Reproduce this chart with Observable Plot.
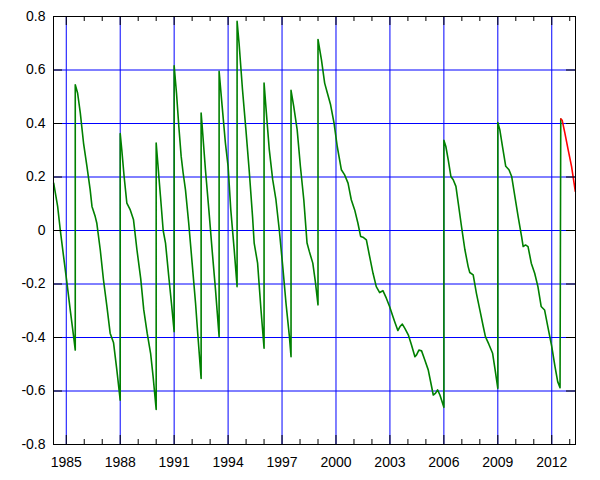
<!DOCTYPE html>
<html><head><meta charset="utf-8">
<script src="https://cdn.jsdelivr.net/npm/d3@7"></script>
<script src="https://cdn.jsdelivr.net/npm/@observablehq/plot@0.6"></script>
<style>body{margin:0;background:#fff}</style>
</head><body><div id="chart"></div>
<script>
const years = [
1984.30,1984.52,1984.67,1984.85,1985.04,1985.22,1985.41,1985.50,
1985.50,1985.63,1985.78,1985.96,1986.15,1986.33,1986.43,1986.61,1986.70,1986.89,1987.07,1987.26,1987.44,1987.63,1987.81,1988.00,
1988.00,1988.09,1988.22,1988.37,1988.56,1988.74,1988.93,1989.14,1989.31,1989.50,1989.69,1989.83,1990.00,
1990.00,1990.09,1990.24,1990.39,1990.52,1990.70,1990.85,1991.00,
1991.00,1991.13,1991.26,1991.39,1991.50,1991.63,1991.81,1992.00,1992.19,1992.31,1992.50,
1992.50,1992.56,1992.74,1992.93,1993.11,1993.30,1993.50,
1993.50,1993.67,1993.85,1994.00,1994.15,1994.34,1994.50,
1994.50,1994.61,1994.80,1994.99,1995.17,1995.36,1995.45,1995.64,1995.83,1996.00,
1996.00,1996.10,1996.29,1996.48,1996.66,1996.85,1997.04,1997.22,1997.41,1997.50,
1997.50,1997.65,1997.84,1998.02,1998.21,1998.39,1998.52,1998.71,1998.85,1999.00,
1999.00,1999.19,1999.37,1999.52,1999.70,1999.89,2000.07,2000.30,2000.48,2000.67,2000.85,2001.04,2001.22,2001.37,2001.50,2001.69,2001.87,2002.06,2002.24,2002.43,2002.61,2002.80,2002.98,2003.17,2003.26,2003.44,2003.56,2003.69,2003.83,2004.02,2004.20,2004.39,2004.48,2004.61,2004.76,2004.94,2005.13,2005.28,2005.41,2005.54,2005.65,2005.78,2005.87,2006.00,
2006.00,2006.11,2006.24,2006.39,2006.52,2006.67,2006.80,2006.98,2007.17,2007.35,2007.44,2007.63,2007.81,2008.00,2008.19,2008.31,2008.50,2008.71,2008.85,2009.00,
2009.00,2009.11,2009.26,2009.44,2009.62,2009.77,2009.95,2010.13,2010.32,2010.41,2010.54,2010.68,2010.86,2011.05,2011.23,2011.41,2011.60,2011.78,2012.00,2012.18,2012.33,2012.46,
2012.50
];
const values = [
0.177,0.09,0.0,-0.097,-0.197,-0.297,-0.397,-0.447,
0.545,0.514,0.44,0.327,0.24,0.152,0.09,0.052,0.027,-0.072,-0.185,-0.284,-0.384,-0.42,-0.52,-0.634,
0.362,0.30,0.20,0.102,0.077,0.04,-0.072,-0.18,-0.297,-0.384,-0.459,-0.546,-0.669,
0.327,0.252,0.127,0.0,-0.047,-0.172,-0.272,-0.378,
0.616,0.514,0.389,0.277,0.215,0.152,0.027,-0.122,-0.272,-0.384,-0.553,
0.439,0.389,0.227,0.077,-0.072,-0.222,-0.397,
0.595,0.464,0.327,0.24,0.077,-0.072,-0.21,
0.782,0.70,0.527,0.377,0.227,0.052,-0.047,-0.122,-0.297,-0.44,
0.551,0.464,0.302,0.19,0.115,0.0,-0.135,-0.272,-0.397,-0.472,
0.524,0.464,0.377,0.24,0.115,-0.047,-0.079,-0.122,-0.19,-0.278,
0.714,0.639,0.551,0.514,0.47,0.402,0.314,0.227,0.208,0.177,0.115,0.077,0.027,-0.022,-0.025,-0.035,-0.097,-0.16,-0.21,-0.232,-0.225,-0.253,-0.284,-0.322,-0.34,-0.374,-0.359,-0.35,-0.366,-0.39,-0.428,-0.472,-0.465,-0.447,-0.45,-0.484,-0.521,-0.571,-0.615,-0.608,-0.596,-0.615,-0.634,-0.661,
0.337,0.314,0.265,0.202,0.19,0.165,0.102,0.015,-0.072,-0.135,-0.157,-0.166,-0.235,-0.297,-0.359,-0.397,-0.425,-0.459,-0.521,-0.59,
0.404,0.377,0.314,0.24,0.227,0.202,0.127,0.052,-0.022,-0.06,-0.054,-0.06,-0.122,-0.16,-0.21,-0.284,-0.297,-0.359,-0.434,-0.509,-0.565,-0.588,
0.417
];
const predYears = [2012.50,2012.58,2012.73,2012.91,2013.10,2013.31];
const predValues = [0.417,0.412,0.364,0.302,0.24,0.146];

const xMajor = [1985,1988,1991,1994,1997,2000,2003,2006,2009,2012];
const xMinor = [1986,1987,1989,1990,1992,1993,1995,1996,1998,1999,2001,2002,2004,2005,2007,2008,2010,2011,2013];
const yTicks = [-0.8,-0.6,-0.4,-0.2,0,0.2,0.4,0.6,0.8];
const yLabels = ["-0.8","-0.6","-0.4","-0.2","0","0.2","0.4","0.6","0.8"];

const observed = years.map((t, i) => ({t, v: values[i]}));
const predicted = predYears.map((t, i) => ({t, v: predValues[i]}));

const W = 600, H = 480, mL = 53, mT = 16, mR = 25, mB = 36;
const plotH = H - mT - mB, plotW = W - mL - mR;

const chart = Plot.plot({
  width: W, height: H,
  marginLeft: mL, marginTop: mT, marginRight: mR, marginBottom: mB,
  style: {fontFamily: "'Liberation Sans', Arial, sans-serif", fontSize: "14px", background: "white", color: "black"},
  x: {domain: [1984.29, 2013.32], ticks: xMajor, tickFormat: d => String(d), tickSize: 0, tickPadding: 13, label: null},
  y: {domain: [-0.8, 0.8], ticks: yTicks, tickFormat: d => yLabels[yTicks.findIndex(v => Math.abs(v - d) < 1e-9)], tickSize: 0, tickPadding: 8, label: null},
  marks: [
    Plot.ruleX(xMajor, {stroke: "#0000ff", strokeWidth: 1}),
    Plot.ruleY(yTicks.slice(1, -1), {stroke: "#0000ff", strokeWidth: 1}),
    Plot.line(observed, {x: "t", y: "v", stroke: "#008000", strokeWidth: 1.6}),
    Plot.line(predicted, {x: "t", y: "v", stroke: "#ff0000", strokeWidth: 1.6}),
    Plot.tickX(xMajor, {x: d => d, insetTop: plotH - 9, stroke: "black"}),
    Plot.tickX(xMajor, {x: d => d, insetBottom: plotH - 9, stroke: "black"}),
    Plot.tickX(xMinor, {x: d => d, insetTop: plotH - 5, stroke: "black"}),
    Plot.tickX(xMinor, {x: d => d, insetBottom: plotH - 5, stroke: "black"}),
    Plot.tickY(yTicks, {y: d => d, insetRight: plotW - 9, stroke: "black"}),
    Plot.tickY(yTicks, {y: d => d, insetLeft: plotW - 9, stroke: "black"}),
    Plot.frame({stroke: "black"})
  ]
});
document.getElementById("chart").appendChild(chart);
</script>
</body></html>
